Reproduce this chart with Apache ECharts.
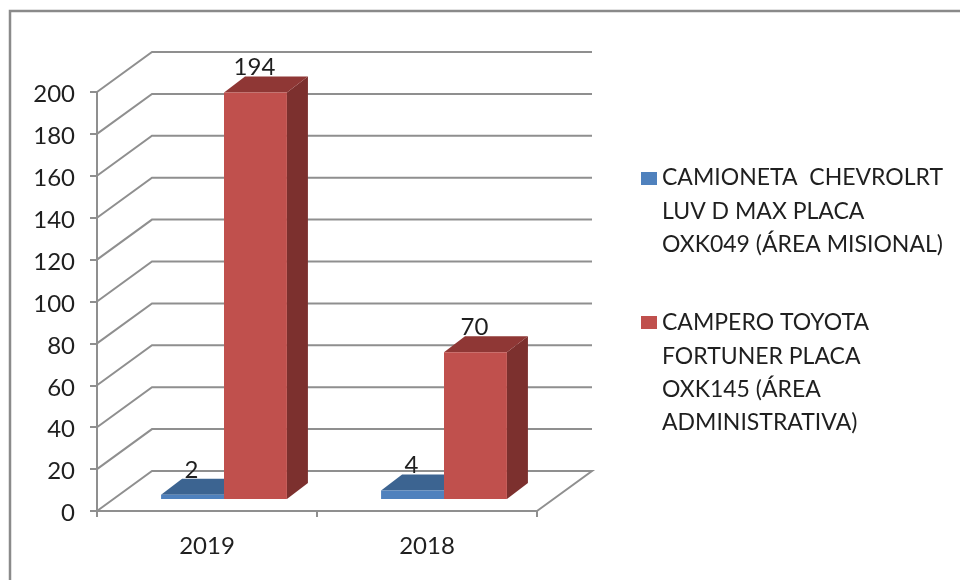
<!DOCTYPE html>
<html>
<head>
    <meta charset="UTF-8">
    <title>Camionetas 2019 - 2018</title>
    <script src="https://cdn.jsdelivr.net/npm/echarts@6/dist/echarts.min.js"></script>
    <style>
        html, body { margin: 0; padding: 0; background: #fff; }
        #chart { width: 960px; height: 580px; }
    </style>
</head>
<body>
<div id="chart"></div>
<script>
// datos
const years = ['2019', '2018'];
const camioneta = [2, 4];
const campero = [194, 70];
const yTicks = [0, 20, 40, 60, 80, 100, 120, 140, 160, 180, 200];
const camionetaName = ['CAMIONETA  CHEVROLRT', 'LUV D MAX PLACA', 'OXK049 (ÁREA MISIONAL)'];
const camperoName = ['CAMPERO TOYOTA', 'FORTUNER PLACA', 'OXK145 (ÁREA', 'ADMINISTRATIVA)'];

// profundidad de la caja 3D
const wallDx = 55, wallDy = -40;
const frontDx = 17, frontDy = -12;
const barDx = 21, barDy = -16;
const gridColor = '#8f8f8f';
const textColor = '#1f1f1f';
const fontName = 'Lato';

function wallItem(params, api) {
    const sys = params.coordSys;
    const p = api.coord([0, api.value(1)]);
    const x0 = sys.x, y0 = p[1];
    const x1 = sys.x + sys.width;
    const points = [[x0, y0], [x0 + wallDx, y0 + wallDy], [x1 + wallDx, y0 + wallDy]];
    // el piso cierra hacia el frente
    if (api.value(1) === 0) points.push([x1, y0]);
    return {
        type: 'polyline',
        shape: { points: points },
        style: { fill: null, stroke: gridColor, lineWidth: 2 }
    };
}

function barItem(colors, side) {
    return function (params, api) {
        const band = api.size([1, 0])[0];
        const w = band * 0.286;
        const c = api.coord([api.value(0), api.value(1)]);
        const b = api.coord([api.value(0), 0]);
        const left = c[0] + frontDx + (side === 0 ? -w : 0);
        const right = left + w;
        const top = c[1] + frontDy;
        const bottom = b[1] + frontDy;
        const poly = (pts, fill) => ({ type: 'polygon', shape: { points: pts }, style: { fill: fill } });
        return {
            type: 'group',
            children: [
                poly([[right, top], [right + barDx, top + barDy], [right + barDx, bottom + barDy], [right, bottom]], colors.side),
                poly([[left, top], [left + barDx, top + barDy], [right + barDx, top + barDy], [right, top]], colors.top),
                { type: 'rect', shape: { x: left, y: top, width: w, height: bottom - top }, style: { fill: colors.front } },
                {
                    type: 'text',
                    x: (left + right) / 2 - 1,
                    y: top - 25,
                    z2: 10,
                    style: {
                        text: String(api.value(1)),
                        align: 'center',
                        verticalAlign: 'middle',
                        font: '24px ' + fontName,
                        fill: textColor
                    }
                }
            ]
        };
    };
}

const blue = { front: '#4f81bd', top: '#3c6491', side: '#2f4f76' };
const red = { front: '#c0504d', top: '#8f3735', side: '#7c302e' };

function legendBlock(lines, color, squareY, firstLineY) {
    const items = [{
        type: 'rect',
        shape: { x: 641, y: squareY, width: 16, height: 13 },
        style: { fill: color }
    }];
    lines.forEach((line, i) => {
        items.push({
            type: 'text',
            x: 662,
            y: firstLineY + i * 33.3,
            style: {
                text: line,
                font: '23px ' + fontName,
                fill: textColor,
                verticalAlign: 'middle'
            }
        });
    });
    return items;
}

const chart = echarts.init(document.getElementById('chart'), null, { renderer: 'canvas' });
chart.setOption({
    animation: false,
    backgroundColor: '#fff',
    grid: { left: 97, right: 423, top: 92, bottom: 69 },
    xAxis: {
        type: 'category',
        data: years,
        axisLine: { lineStyle: { color: gridColor, width: 2 } },
        axisTick: { show: true, alignWithLabel: false, length: 6, lineStyle: { color: gridColor, width: 2 } },
        axisLabel: { color: textColor, fontFamily: fontName, fontSize: 24, margin: 23 }
    },
    yAxis: {
        type: 'value',
        min: 0,
        max: 200,
        interval: 20,
        splitLine: { show: false },
        axisLine: { show: true, lineStyle: { color: gridColor, width: 2 } },
        axisTick: { show: true, length: 7, lineStyle: { color: gridColor, width: 2 } },
        axisLabel: {
            margin: 22,
            formatter: '{t|{value}}',
            rich: { t: { color: textColor, fontFamily: fontName, fontSize: 24, padding: [5, 0, 0, 0] } }
        }
    },
    series: [
        {
            type: 'custom',
            name: 'paredes',
            silent: true,
            clip: false,
            z: 1,
            encode: { x: 0, y: 1 },
            data: yTicks.map(t => [0, t]),
            renderItem: wallItem
        },
        {
            type: 'custom',
            name: camionetaName.join(' '),
            clip: false,
            z: 2,
            encode: { x: 0, y: 1 },
            data: camioneta.map((v, i) => [i, v]),
            renderItem: barItem(blue, 0)
        },
        {
            type: 'custom',
            name: camperoName.join(' '),
            clip: false,
            z: 3,
            encode: { x: 0, y: 1 },
            data: campero.map((v, i) => [i, v]),
            renderItem: barItem(red, 1)
        }
    ],
    graphic: [
        {
            type: 'polyline',
            shape: { points: [[10, 580], [10, 11], [960, 11]] },
            style: { fill: null, stroke: '#8a8a8a', lineWidth: 2.5 }
        }
    ].concat(
        legendBlock(camionetaName, blue.front, 172, 178),
        legendBlock(camperoName, red.front, 316, 323)
    )
});
</script>
</body>
</html>
